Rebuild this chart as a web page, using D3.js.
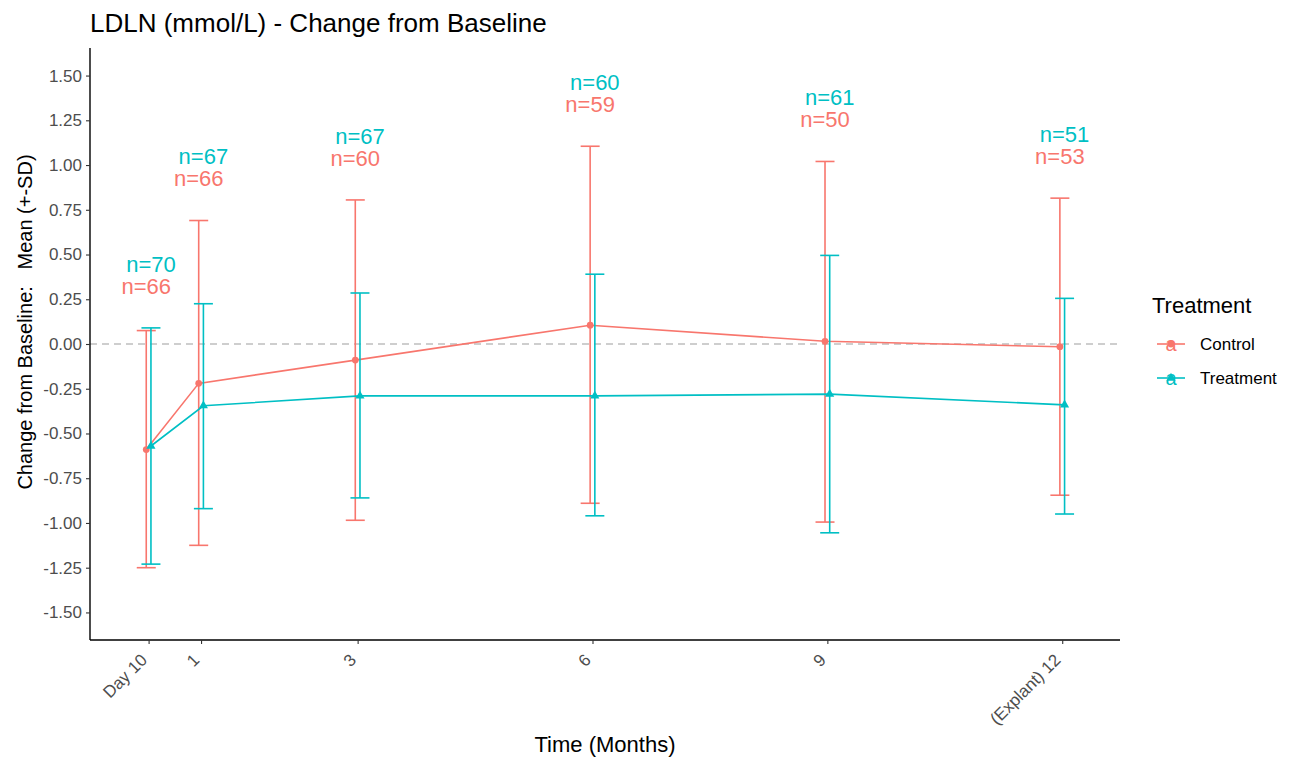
<!DOCTYPE html>
<html>
<head>
<meta charset="utf-8">
<script src="https://cdn.jsdelivr.net/npm/d3@7"></script>
<style>
  body { margin: 0; background: #fff; }
  text { font-family: "Liberation Sans", Arial, sans-serif; }
</style>
</head>
<body>
<div id="chart"></div>
<script>
// Visit times (months) and their axis labels
const timeMonths = [0.33, 1, 3, 6, 9, 12];
const timeLabels = ["Day 10", "1", "3", "6", "9", "(Explant) 12"];

// Control group: mean, mean-SD, mean+SD, n
const controlMean  = [-0.59, -0.22, -0.09, 0.105, 0.015, -0.015];
const controlLower = [-1.25, -1.125, -0.985, -0.89, -0.995, -0.845];
const controlUpper = [0.075, 0.69, 0.805, 1.105, 1.02, 0.815];
const controlN     = [66, 66, 60, 59, 50, 53];

// Treatment group
const treatmentMean  = [-0.57, -0.345, -0.29, -0.29, -0.28, -0.34];
const treatmentLower = [-1.23, -0.92, -0.86, -0.96, -1.055, -0.95];
const treatmentUpper = [0.09, 0.225, 0.285, 0.39, 0.495, 0.255];
const treatmentN     = [70, 67, 67, 60, 61, 51];

const yTicks = [-1.5, -1.25, -1, -0.75, -0.5, -0.25, 0, 0.25, 0.5, 0.75, 1, 1.25, 1.5];

const colors = {Control: "#F8766D", Treatment: "#00BFC4"};
const dodge = 0.03;

const series = [
  {name: "Control", mean: controlMean, lo: controlLower, hi: controlUpper, n: controlN, shift: -dodge},
  {name: "Treatment", mean: treatmentMean, lo: treatmentLower, hi: treatmentUpper, n: treatmentN, shift: dodge}
];

const W = 1290, H = 760;
const pLeft = 90, pRight = 1120, pTop = 48, pBottom = 640;

const svg = d3.select("#chart").append("svg")
    .attr("width", W)
    .attr("height", H);

const x = d3.scaleLinear().domain([-0.4185, 12.738]).range([pLeft, pRight]);
const y = d3.scaleLinear().domain([-1.654, 1.654]).range([pBottom, pTop]);

// title
svg.append("text")
    .attr("x", pLeft)
    .attr("y", 32)
    .attr("font-size", 26)
    .attr("fill", "#000")
    .text("LDLN (mmol/L) - Change from Baseline");

// reference line at zero
svg.append("line")
    .attr("x1", pLeft).attr("x2", pRight)
    .attr("y1", y(0)).attr("y2", y(0))
    .attr("stroke", "#BEBEBE")
    .attr("stroke-width", 1.3)
    .attr("stroke-dasharray", "7,5");

// axes
const yAxis = svg.append("g")
    .attr("transform", "translate(" + pLeft + ",0)")
    .call(d3.axisLeft(y).tickValues(yTicks).tickSize(4).tickPadding(4).tickFormat(d3.format(".2f")));
yAxis.select(".domain").attr("stroke", "#000").attr("stroke-width", 1.4).attr("d", "M0," + pTop + "V" + pBottom);
yAxis.selectAll(".tick line").attr("stroke", "#333").attr("stroke-width", 1.1);
yAxis.selectAll(".tick text").attr("font-size", 17).attr("fill", "#4D4D4D")
    .text(d => d3.format(".2f")(d).replace("−", "-"));

const xAxis = svg.append("g")
    .attr("transform", "translate(0," + pBottom + ")")
    .call(d3.axisBottom(x).tickValues(timeMonths).tickSize(4).tickFormat((d, i) => timeLabels[i]));
xAxis.select(".domain").attr("stroke", "#000").attr("stroke-width", 1.4).attr("d", "M" + pLeft + ",0H" + pRight);
xAxis.selectAll(".tick line").attr("stroke", "#333").attr("stroke-width", 1.1);
xAxis.selectAll(".tick text")
    .attr("font-size", 17)
    .attr("fill", "#4D4D4D")
    .attr("text-anchor", "end")
    .attr("dy", null)
    .attr("y", 0)
    .attr("transform", "translate(-1,21) rotate(-45)");

// axis titles
svg.append("text")
    .attr("x", (pLeft + pRight) / 2)
    .attr("y", 752)
    .attr("text-anchor", "middle")
    .attr("font-size", 22)
    .text("Time (Months)");

svg.append("text")
    .attr("transform", "translate(32,322) rotate(-90)")
    .attr("text-anchor", "middle")
    .attr("font-size", 20)
    .attr("xml:space", "preserve")
    .style("white-space", "pre")
    .text("Change from Baseline:   Mean (+-SD)");

// series
series.forEach(s => {
  const col = colors[s.name];
  const g = svg.append("g");
  const pts = timeMonths.map((t, i) => ({t: t + s.shift, m: s.mean[i], lo: s.lo[i], hi: s.hi[i]}));

  g.selectAll(".bar").data(pts).enter().append("line")
      .attr("x1", d => x(d.t)).attr("x2", d => x(d.t))
      .attr("y1", d => y(d.lo)).attr("y2", d => y(d.hi))
      .attr("stroke", col).attr("stroke-width", 1.6);
  ["lo", "hi"].forEach(k => {
    g.selectAll(".cap" + k).data(pts).enter().append("line")
        .attr("x1", d => x(d.t) - 9.5).attr("x2", d => x(d.t) + 9.5)
        .attr("y1", d => y(d[k])).attr("y2", d => y(d[k]))
        .attr("stroke", col).attr("stroke-width", 1.6);
  });

  g.append("path")
      .datum(pts)
      .attr("fill", "none")
      .attr("stroke", col)
      .attr("stroke-width", 1.6)
      .attr("d", d3.line().x(d => x(d.t)).y(d => y(d.m)));

  const sym = d3.symbol().type(s.name === "Control" ? d3.symbolCircle : d3.symbolTriangle).size(s.name === "Control" ? 36 : 36);
  g.selectAll(".pt").data(pts).enter().append("path")
      .attr("transform", d => "translate(" + x(d.t) + "," + y(d.m) + ")")
      .attr("d", sym)
      .attr("fill", col);
});

// n labels above the bars
timeMonths.forEach((t, i) => {
  const barTop = Math.max(controlUpper[i], treatmentUpper[i]);
  series.forEach((s, k) => {
    svg.append("text")
        .attr("x", x(t + s.shift))
        .attr("y", y(barTop + 0.235 + k * 0.123))
        .attr("dy", "0.35em")
        .attr("text-anchor", "middle")
        .attr("font-size", 22)
        .attr("fill", colors[s.name])
        .text("n=" + s.n[i]);
  });
});

// legend
const lg = svg.append("g").attr("transform", "translate(1152,0)");
lg.append("text")
    .attr("x", 0).attr("y", 305).attr("dy", "0.35em")
    .attr("font-size", 22)
    .text("Treatment");
series.forEach((s, i) => {
  const cy = 344 + i * 34;
  const col = colors[s.name];
  lg.append("line").attr("x1", 5).attr("x2", 33).attr("y1", cy).attr("y2", cy)
      .attr("stroke", col).attr("stroke-width", 1.6);
  lg.append("path")
      .attr("transform", "translate(19," + cy + ")")
      .attr("d", d3.symbol().type(i === 0 ? d3.symbolCircle : d3.symbolTriangle).size(36))
      .attr("fill", col);
  lg.append("text")
      .attr("x", 19).attr("y", cy + 7)
      .attr("text-anchor", "middle")
      .attr("font-size", 20)
      .attr("fill", col)
      .text("a");
  lg.append("text")
      .attr("x", 48).attr("y", cy).attr("dy", "0.35em")
      .attr("font-size", 17)
      .text(s.name);
});
</script>
</body>
</html>
